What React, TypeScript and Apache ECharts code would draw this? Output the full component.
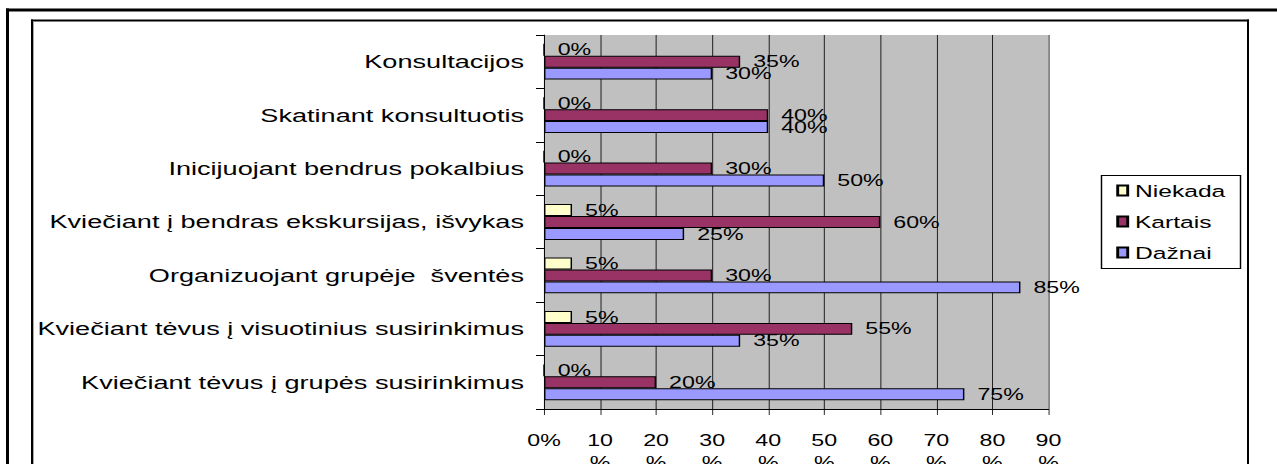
import React, { useEffect, useRef } from "react";
import * as echarts from "echarts";

const categories = [
  "Konsultacijos",
  "Skatinant konsultuotis",
  "Inicijuojant bendrus pokalbius",
  "Kviečiant į bendras ekskursijas, išvykas",
  "Organizuojant grupėje  šventės",
  "Kviečiant tėvus į visuotinius susirinkimus",
  "Kviečiant tėvus į grupės susirinkimus",
];
const niekada = [0, 0, 0, 5, 5, 5, 0];
const kartais = [35, 40, 30, 60, 30, 55, 20];
const daznai = [30, 40, 50, 25, 85, 35, 75];
const seriesNames = ["Niekada", "Kartais", "Dažnai"];
const xTicks = [0, 10, 20, 30, 40, 50, 60, 70, 80, 90];

const FONT = "'Liberation Sans', Arial, sans-serif";
// the reference picture is stretched horizontally; reproduce that with a CSS scaleX
const S = 1.45;
const W = 1277 / S;
const X = (px: number) => px / S;

export default function App() {
  const ref = useRef<HTMLDivElement>(null);
  useEffect(() => {
    if (!ref.current) return;
    const chart = echarts.init(ref.current, undefined, { renderer: "svg" });
    const colors = ["#FFFFCC", "#993366", "#9999FF"];
    const datasets = [niekada, kartais, daznai];
    const label = {
      show: true,
      position: "right",
      distance: X(13),
      formatter: "{c}%",
      fontSize: 16,
      color: "#000",
      fontFamily: FONT,
    };
    chart.setOption({
      animation: false,
      textStyle: { fontFamily: FONT },
      grid: {
        left: X(544),
        right: W - X(1048),
        top: 35,
        bottom: 55,
        show: true,
        backgroundColor: "#C0C0C0",
        borderWidth: 0,
        containLabel: false,
        outerBoundsMode: "none",
      },
      legend: {
        data: seriesNames,
        orient: "vertical",
        left: X(1109),
        top: 177,
        itemWidth: X(10),
        itemHeight: 10,
        itemGap: 14,
        icon: "rect",
        textStyle: {
          fontSize: 17,
          lineHeight: 16,
          color: "#000",
          fontFamily: FONT,
        },
      },
      xAxis: {
        type: "value",
        min: xTicks[0],
        max: xTicks[xTicks.length - 1],
        interval: 10,
        axisLine: { show: true, lineStyle: { color: "#000", width: 1 } },
        axisTick: { show: true, length: 6, lineStyle: { color: "#000", width: 1 / S } },
        splitLine: { show: true, lineStyle: { color: "#000", width: 1 / S } },
        axisLabel: {
          fontSize: 16,
          lineHeight: 22,
          color: "#000",
          margin: 20,
          hideOverlap: false,
          formatter: (v: number) => (v === 0 ? "0%" : `${v}\n%`),
        },
      },
      yAxis: {
        type: "category",
        data: categories,
        inverse: true,
        axisLine: { show: true, lineStyle: { color: "#000", width: 1 / S } },
        axisTick: { show: true, length: X(8), lineStyle: { color: "#000" } },
        axisLabel: { fontSize: 18.7, color: "#000", margin: X(20) },
      },
      series: seriesNames.map((name, i) => ({
        name,
        type: "bar",
        data: datasets[i],
        barGap: "0%",
        barCategoryGap: "33%",
        itemStyle: { color: colors[i], borderColor: "#000", borderWidth: 1 },
        label,
      })),
      graphic: [
        // outer frame
        {
          type: "line",
          shape: { x1: X(6), y1: 10, x2: W + 5, y2: 10 },
          style: { stroke: "#000", lineWidth: 3 },
          silent: true,
        },
        {
          type: "line",
          shape: { x1: X(7.5), y1: 8.5, x2: X(7.5), y2: 470 },
          style: { stroke: "#000", lineWidth: 3 / S },
          silent: true,
        },
        // inner frame
        {
          type: "line",
          shape: { x1: X(31), y1: 20.5, x2: X(1249), y2: 20.5 },
          style: { stroke: "#000", lineWidth: 2 },
          silent: true,
        },
        {
          type: "line",
          shape: { x1: X(32), y1: 19.5, x2: X(32), y2: 470 },
          style: { stroke: "#000", lineWidth: 2 / S },
          silent: true,
        },
        {
          type: "line",
          shape: { x1: X(33.5), y1: 21.5, x2: X(33.5), y2: 470 },
          style: { stroke: "#999", lineWidth: 1 / S },
          silent: true,
        },
        {
          type: "line",
          shape: { x1: X(1248), y1: 19.5, x2: X(1248), y2: 470 },
          style: { stroke: "#000", lineWidth: 2 / S },
          silent: true,
        },
        // legend box
        {
          type: "rect",
          shape: { x: X(1101.5), y: 175.5, width: X(139), height: 93 },
          style: { fill: "none", stroke: "#000", lineWidth: 1 },
          silent: true,
        },
      ],
    });
    return () => chart.dispose();
  }, []);
  return (
    <div
      ref={ref}
      style={{
        position: "fixed",
        left: 0,
        top: 0,
        width: W,
        height: 464,
        background: "#fff",
        transform: `scaleX(${S})`,
        transformOrigin: "0 0",
      }}
    />
  );
}
